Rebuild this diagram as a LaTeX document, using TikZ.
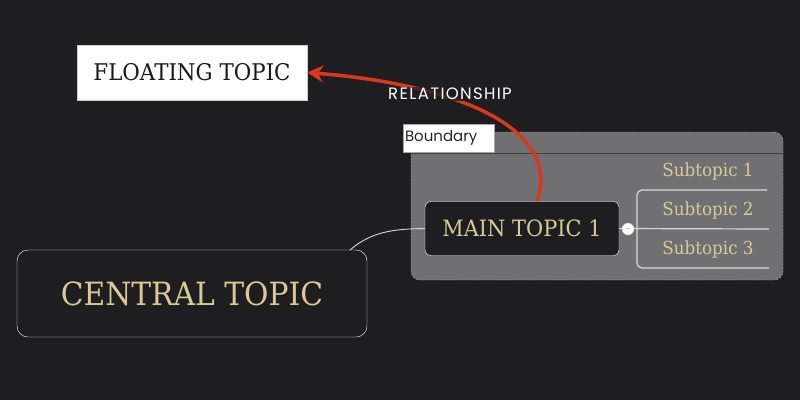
\documentclass[tikz,border=0pt]{standalone}
\usepackage{fontspec}
\usetikzlibrary{arrows.meta}
\newfontfamily\slab[FakeStretch=0.93]{DejaVu Serif}
\newfontfamily\labelfont{Poppins}
\newfontfamily\relfont[LetterSpace=8]{Poppins}
\definecolor{mapbg}{RGB}{30,30,32}
\definecolor{gold}{RGB}{216,202,150}
\definecolor{boundfill}{RGB}{112,112,114}
\definecolor{relred}{RGB}{217,56,30}

\begin{document}
\begin{tikzpicture}[x=1pt,y=-1pt,
    topic/.style={draw=white, fill=mapbg, text=gold, rounded corners=#1, inner sep=0pt, font=\slab},
    subtopic/.style={text=gold, inner sep=0pt, font=\slab\fontsize{18}{21}\selectfont},
    branch/.style={draw=white!85!black, line width=1.2pt},
    tag/.style={draw=black!35, fill=white, text=black!85, inner sep=0pt, font=\labelfont\fontsize{15}{18}\selectfont}]
    \fill[mapbg] (0,0) rectangle (800,400);
    \useasboundingbox (0,0) rectangle (800,400);

    % boundary round the main topic
    \node (bound)[draw=white!75!black, dash pattern=on 2pt off 1.5pt, fill=boundfill, rounded corners=9pt,
                  minimum width=372pt, minimum height=148pt] at (597,206) {};
    \draw[black!45!boundfill] (411,153) -- (783,153);
    \node (boundtag)[tag, minimum width=91pt, minimum height=28pt, text width=87pt] at (448.5,138) {Boundary};

    \node (float)[tag, draw=black!20, text=black!90, minimum width=230pt, minimum height=55pt,
                  font=\slab\fontsize{23}{26}\selectfont] at (192,72.5) {FLOATING TOPIC};
    \node (central)[topic=11pt, minimum width=350pt, minimum height=87pt,
                    font=\slab\fontsize{32}{36}\selectfont] at (192,293.5) {CENTRAL TOPIC};
    \node (main)[topic=6pt, minimum width=194pt, minimum height=54pt,
                 font=\slab\fontsize{22.5}{28}\selectfont] at (522,228.5) {MAIN TOPIC 1};

    \node (sub1)[subtopic] at (708,172) {Subtopic 1};
    \node (sub2)[subtopic] at (708,211) {Subtopic 2};
    \node (sub3)[subtopic] at (708,250) {Subtopic 3};

    \coordinate (c0) at (350,250);
    \coordinate (s1) at (767,190);
    \coordinate (s2) at (769,229);
    \coordinate (s3) at (769,268);
    \coordinate (r0) at (537,201);

    \draw[branch, line width=0.9pt] (c0) .. controls (372,231) and (395,229) .. (main.west);
    \draw[branch] (main.east) -- (s2);
    \draw[branch, rounded corners=5pt] (s1) -| (637,229) |- (s3);

    \node (fold)[circle, draw=white!80!black, fill=white, minimum size=12pt, inner sep=0pt,
                 text=blue!30!gray, font=\bfseries\scriptsize] at (628,229) {$-$};

    % relationship
    \draw[relred, line width=3.5pt, -{Stealth[length=16pt,width=17pt]}]
      (r0) .. controls (562,130) and (462,85) .. (float.east);
    \node (rel)[fill=mapbg, fill opacity=0.8, text opacity=1, text=white, inner sep=1pt,
                font=\relfont\fontsize{16.5}{18}\selectfont] at (450,94) {RELATIONSHIP};
  \end{tikzpicture}
\end{document}
